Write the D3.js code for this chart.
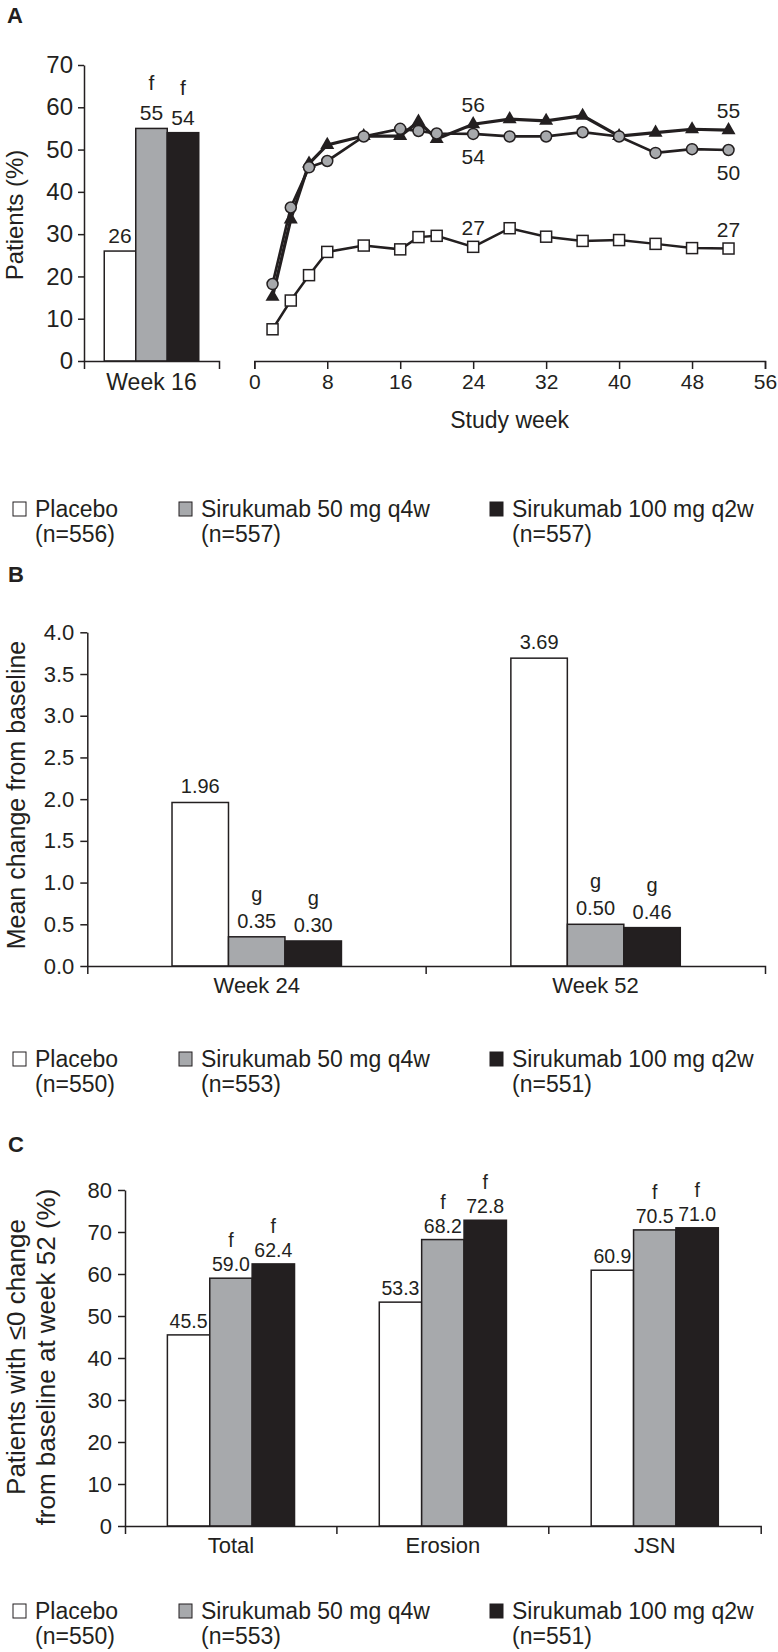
<!DOCTYPE html>
<html><head><meta charset="utf-8">
<script src="https://cdn.jsdelivr.net/npm/d3@7"></script>
<style>
body{margin:0;background:#fff;}
svg{display:block;}
</style></head><body>
<svg id="chart" width="778" height="1652"></svg>
<script>
// ---------- DATA ----------
const groups = ["Placebo", "Sirukumab 50 mg q4w", "Sirukumab 100 mg q2w"];
const groupColors = ["#ffffff", "#a7a9ac", "#231f20"];
const legendNA = ["(n=556)", "(n=557)", "(n=557)"];
const legendNB = ["(n=550)", "(n=553)", "(n=551)"];
const legendNC = ["(n=550)", "(n=553)", "(n=551)"];

// Panel A – bars at week 16
const categoriesA = ["Week 16"];
const valuesA = [[26, 55, 54]];
const flagsA = [["", "f", "f"]];
const yTicksA = [0, 10, 20, 30, 40, 50, 60, 70];

// Panel A – time course
const studyWeeks   = [2, 4, 6, 8, 12, 16, 18, 20, 24, 28, 32, 36, 40, 44, 48, 52];
const placeboLine  = [7.5, 14.3, 20.3, 25.8, 27.3, 26.4, 29.3, 29.6, 27.0, 31.4, 29.4, 28.4, 28.6, 27.7, 26.7, 26.6];
const siru50Line   = [18.2, 36.3, 45.8, 47.3, 53.1, 54.9, 54.4, 53.8, 53.7, 53.1, 53.1, 54.1, 53.1, 49.2, 50.1, 49.9];
const siru100Line  = [15.2, 33.5, 46.7, 51.1, 53.2, 53.2, 56.6, 52.5, 56.0, 57.2, 56.8, 58.0, 53.2, 54.0, 54.8, 54.6];
const xTicksA = [0, 8, 16, 24, 32, 40, 48, 56];
const lineLabelSeries = [2, 1, 0, 2, 1, 0];
const lineLabelWeeks  = [24, 24, 24, 52, 52, 52];
const lineLabelTexts  = ["56", "54", "27", "55", "50", "27"];
const lineLabelSides  = ["above", "below", "above", "above", "below", "above"];

// Panel B
const categoriesB = ["Week 24", "Week 52"];
const valuesB = [[1.96, 0.35, 0.30], [3.69, 0.50, 0.46]];
const flagsB = [["", "g", "g"], ["", "g", "g"]];
const yTicksB = [0, 0.5, 1, 1.5, 2, 2.5, 3, 3.5, 4];

// Panel C
const categoriesC = ["Total", "Erosion", "JSN"];
const valuesC = [[45.5, 59.0, 62.4], [53.3, 68.2, 72.8], [60.9, 70.5, 71.0]];
const flagsC = [["", "f", "f"], ["", "f", "f"], ["", "f", "f"]];
const yTicksC = [0, 10, 20, 30, 40, 50, 60, 70, 80];

// ---------- DRAWING ----------
const FONT = '"Liberation Sans", Arial, Helvetica, sans-serif';
const INK = "#231f20";
const svg = d3.select("#chart").attr("font-family", FONT);

function styleAxis(g, size) {
  g.attr("font-family", FONT).attr("font-size", size);
  g.select(".domain").attr("stroke", INK).attr("stroke-width", 1.5);
  g.selectAll(".tick line").attr("stroke", INK).attr("stroke-width", 1.5);
  g.selectAll(".tick text").attr("fill", INK);
}
function txt(x, y, s, size, anchor, weight) {
  return svg.append("text").attr("x", x).attr("y", y).attr("font-size", size)
    .attr("text-anchor", anchor || "start").attr("font-weight", weight || "normal")
    .attr("fill", INK).text(s);
}
function yTitle(lines, xs, cy, size) {
  lines.forEach((l, i) => {
    svg.append("text").attr("transform", `translate(${xs[i]},${cy}) rotate(-90)`)
      .attr("text-anchor", "middle").attr("font-size", size).attr("fill", INK).text(l);
  });
}
function legend(nLabels, baseline) {
  const bx = [13, 179, 490];
  groups.forEach((name, i) => {
    svg.append("rect").attr("x", bx[i]).attr("y", baseline - 15).attr("width", 13).attr("height", 14)
      .attr("fill", groupColors[i]).attr("stroke", INK).attr("stroke-width", 1);
    txt(bx[i] + 22, baseline, name, 23);
    txt(bx[i] + 22, baseline + 25, nLabels[i], 23);
  });
}
function groupedBars(x0, y, categories, values, flags, fmt, labelSize, numGap, flagGap) {
  const x1 = d3.scaleBand().domain(d3.range(groups.length)).range([0, x0.bandwidth()]);
  const g = svg.append("g");
  categories.forEach((cat, ci) => {
    values[ci].forEach((v, gi) => {
      const bx = x0(cat) + x1(gi);
      g.append("rect").attr("x", bx).attr("y", y(v)).attr("width", x1.bandwidth())
        .attr("height", y(0) - y(v)).attr("fill", groupColors[gi])
        .attr("stroke", INK).attr("stroke-width", 1.5);
      g.append("text").attr("x", bx + x1.bandwidth() / 2).attr("y", y(v) - numGap)
        .attr("text-anchor", "middle").attr("font-size", labelSize).attr("fill", INK).text(fmt(v));
      if (flags[ci][gi]) {
        g.append("text").attr("x", bx + x1.bandwidth() / 2).attr("y", y(v) - numGap - flagGap)
          .attr("text-anchor", "middle").attr("font-size", labelSize).attr("fill", INK).text(flags[ci][gi]);
      }
    });
  });
}
function categoryAxis(x0, yPos, size, padding) {
  const ax = svg.append("g").attr("transform", `translate(0,${yPos})`)
    .call(d3.axisBottom(x0).tickSizeInner(0).tickSizeOuter(8).tickPadding(padding));
  styleAxis(ax, size);
  x0.domain().slice(1).forEach(c => {
    const xb = x0(c) - x0.step() * x0.paddingInner() / 2;
    ax.append("line").attr("x1", xb).attr("x2", xb).attr("y1", 0).attr("y2", 8)
      .attr("stroke", INK).attr("stroke-width", 1.5);
  });
}

// ===== Panel A =====
txt(7, 23, "A", 22, "start", "bold");
const yA = d3.scaleLinear().domain([0, 70]).range([361, 65]);
const xA = d3.scaleBand().domain(categoriesA).range([84, 219]).paddingInner(0.3).paddingOuter(0.15);
groupedBars(xA, yA, categoriesA, valuesA, flagsA, d3.format("d"), 21, 8, 30);
styleAxis(svg.append("g").attr("transform", "translate(84,0)")
  .call(d3.axisLeft(yA).tickValues(yTicksA).tickSize(6).tickSizeOuter(0).tickPadding(5)), 24);
categoryAxis(xA, 361, 23, 13);
yTitle(["Patients (%)"], [23], 215, 24);

const xL = d3.scaleLinear().domain([0, 56]).range([254.3, 765]);
const axL = svg.append("g").attr("transform", "translate(0,361)")
  .call(d3.axisBottom(xL).tickValues(xTicksA).tickSize(8).tickPadding(5));
styleAxis(axL, 21);
txt((254.3 + 765) / 2, 428, "Study week", 23, "middle");

const seriesData = [placeboLine, siru50Line, siru100Line];
const pts = s => studyWeeks.map((w, i) => [xL(w), yA(seriesData[s][i])]);
const lineGen = d3.line();
// placebo
svg.append("path").attr("d", lineGen(pts(0))).attr("fill", "none").attr("stroke", INK).attr("stroke-width", 2.5);
svg.append("g").selectAll("rect").data(pts(0)).join("rect")
  .attr("x", d => d[0] - 5.5).attr("y", d => d[1] - 5.5).attr("width", 11).attr("height", 11)
  .attr("fill", "#fff").attr("stroke", INK).attr("stroke-width", 1.5);
// 100 mg
svg.append("path").attr("d", lineGen(pts(2))).attr("fill", "none").attr("stroke", INK).attr("stroke-width", 3.2);
svg.append("g").selectAll("path").data(pts(2)).join("path")
  .attr("transform", d => `translate(${d[0]},${d[1]})`)
  .attr("d", d3.symbol(d3.symbolTriangle, 85)).attr("fill", INK);
// 50 mg
svg.append("path").attr("d", lineGen(pts(1))).attr("fill", "none").attr("stroke", INK).attr("stroke-width", 2.7);
svg.append("g").selectAll("circle").data(pts(1)).join("circle")
  .attr("cx", d => d[0]).attr("cy", d => d[1]).attr("r", 5.5)
  .attr("fill", "#a7a9ac").attr("stroke", INK).attr("stroke-width", 1.5);
// labels
lineLabelTexts.forEach((t, i) => {
  const s = lineLabelSeries[i];
  const wi = studyWeeks.indexOf(lineLabelWeeks[i]);
  const px = xL(lineLabelWeeks[i]), py = yA(seriesData[s][wi]);
  txt(px, lineLabelSides[i] === "above" ? py - 12 : py + 30, t, 21, "middle");
});
legend(legendNA, 517);

// ===== Panel B =====
txt(8, 582, "B", 22, "start", "bold");
const yB = d3.scaleLinear().domain([0, 4]).range([966, 632.3]);
const xB = d3.scaleBand().domain(categoriesB).range([87.3, 765]).paddingInner(0.5).paddingOuter(0.25);
groupedBars(xB, yB, categoriesB, valuesB, flagsB, d3.format(".2f"), 20, 9, 27);
styleAxis(svg.append("g").attr("transform", "translate(87.3,0)")
  .call(d3.axisLeft(yB).tickValues(yTicksB).tickFormat(d3.format(".1f")).tickSize(7).tickSizeOuter(0).tickPadding(6)), 22);
categoryAxis(xB, 966, 22, 11);
yTitle(["Mean change from baseline"], [25], 795, 25);
legend(legendNB, 1067);

// ===== Panel C =====
txt(8, 1152, "C", 22, "start", "bold");
const yC = d3.scaleLinear().domain([0, 80]).range([1526, 1190]);
const xC = d3.scaleBand().domain(categoriesC).range([125, 760.7]).paddingInner(0.4).paddingOuter(0.2);
groupedBars(xC, yC, categoriesC, valuesC, flagsC, d3.format(".1f"), 19.5, 7, 24);
styleAxis(svg.append("g").attr("transform", "translate(125,0)")
  .call(d3.axisLeft(yC).tickValues(yTicksC).tickSize(7).tickSizeOuter(0).tickPadding(6)), 22);
categoryAxis(xC, 1526, 22, 11);
yTitle(["Patients with \u22640 change", "from baseline at week 52 (%)"], [25, 55], 1357, 26);
legend(legendNC, 1619);
</script>
</body></html>
